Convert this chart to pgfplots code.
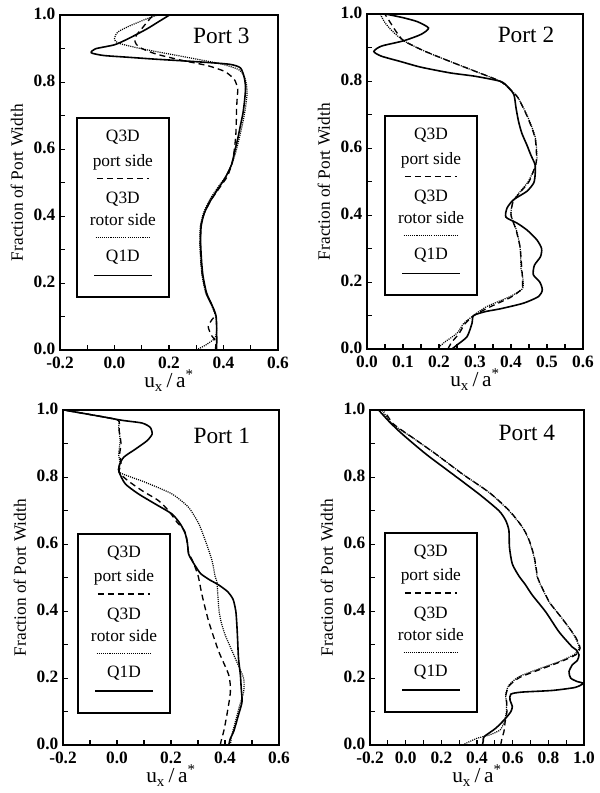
\documentclass[border=0pt]{standalone}
\usepackage{fontspec}
\setmainfont{Liberation Serif}
\usepackage{pgfplots}
\pgfplotsset{compat=1.18}
\usetikzlibrary{calc}

\pgfplotsset{
  portax/.style={
    scale only axis, width=162pt, height=251pt, anchor=south west,
    ymin=0, ymax=1,
    ytick={0,0.2,0.4,0.6,0.8,1.0}, minor ytick={0.1,0.3,0.5,0.7,0.9},
    tick align=inside, xtick pos=left, ytick pos=left,
    major tick length=4pt, minor tick length=3.5pt,
    every tick/.style={black, line width=0.8pt},
    axis line style={line width=1.4pt},
    /pgf/number format/assume math mode=true,
    /pgf/number format/fixed, /pgf/number format/fixed zerofill,
    /pgf/number format/precision=1,
    tick label style={font=\fontsize{13}{13}\selectfont\bfseries},
    xticklabel style={yshift=-1.5pt},
    yticklabel style={yshift=1pt},
    xlabel={u\textsubscript{x}\,/\,a\textsuperscript{*}},
    ylabel={Fraction of Port Width},
    xlabel style={font=\fontsize{16}{16}\selectfont, yshift=6pt},
    ylabel style={font=\fontsize{13}{13}\selectfont, yshift=1pt},
  },
  q1d/.style={black, line width=1.2pt, smooth, tension=0.4},
  q3dp/.style={black, line width=1pt, dash pattern=on 4.5pt off 3pt, smooth, tension=0.4},
  q3dr/.style={black, line width=0.9pt, dash pattern=on 0.8pt off 0.8pt, smooth, tension=0.4},
}
\tikzset{legtxt/.style={font=\fontsize{13}{13}\selectfont}}

% legend box: top-left corner in rel axis cs
\newcommand\portlegend[2]{%
  \node[draw, line width=1.4pt, anchor=north west, inner sep=0pt,
        minimum width=69pt, minimum height=134pt] (L) at (rel axis cs:#1,#2) {};
  \node[legtxt] at ($(L.north)+(0pt,-15pt)$) {Q3D};
  \node[legtxt] at ($(L.north)+(0pt,-33.5pt)$) {port side};
  \draw[line width=1pt, dash pattern=on 4.5pt off 3pt] ($(L.north)+(-19.5pt,-45.75pt)$) -- ++(39pt,0pt);
  \node[legtxt] at ($(L.north)+(0pt,-61.5pt)$) {Q3D};
  \node[legtxt] at ($(L.north)+(0pt,-77pt)$) {rotor side};
  \draw[line width=0.9pt, dash pattern=on 0.8pt off 0.8pt] ($(L.north)+(-20.5pt,-90pt)$) -- ++(41pt,0pt);
  \node[legtxt] at ($(L.north)+(0pt,-105pt)$) {Q1D};
  \draw[line width=1.2pt] ($(L.north)+(-21.5pt,-118.5pt)$) -- ++(43pt,0pt);
}

\begin{document}
\begin{tikzpicture}
\path (0,0) rectangle (447.75pt,594.75pt);

% ---------------- Port 3 ----------------
\begin{axis}[portax, at={(45pt,332.25pt)}, width=163.5pt,
  xmin=-0.2, xmax=0.6, xtick={-0.2,0,0.2,0.4,0.6}, minor xtick={-0.1,0.1,0.3,0.5}]
\addplot[q1d] coordinates {
(0.375,0.0) (0.375,0.05) (0.373,0.10) (0.36,0.13) (0.338,0.17) (0.325,0.22) (0.32,0.26)
(0.316,0.32) (0.318,0.37) (0.33,0.41) (0.355,0.45) (0.387,0.49) (0.41,0.52) (0.43,0.555)
(0.443,0.6) (0.452,0.63) (0.462,0.67) (0.472,0.71) (0.478,0.75) (0.481,0.785) (0.476,0.815)
(0.462,0.843) (0.42,0.854) (0.29,0.862) (0.15,0.869) (0.045,0.875) (-0.04,0.88) (-0.085,0.888)
(-0.07,0.9) (0.0,0.912) (0.05,0.93) (0.118,0.959) (0.16,0.98) (0.2,1.0)};
\addplot[q3dr] coordinates {
(0.30,0.0) (0.335,0.015) (0.368,0.035) (0.375,0.06) (0.372,0.10) (0.358,0.13) (0.335,0.17)
(0.322,0.22) (0.317,0.26) (0.313,0.32) (0.315,0.37) (0.327,0.41) (0.35,0.45) (0.383,0.49)
(0.41,0.52) (0.433,0.56) (0.448,0.6) (0.46,0.64) (0.471,0.68) (0.48,0.72) (0.486,0.76)
(0.485,0.79) (0.476,0.818) (0.455,0.838) (0.39,0.855) (0.25,0.877) (0.10,0.9) (0.014,0.917)
(0.0,0.93) (0.012,0.95) (0.06,0.97) (0.12,0.99) (0.155,1.0)};
\addplot[q3dp] coordinates {
(0.37,0.0) (0.372,0.025) (0.355,0.045) (0.344,0.07) (0.357,0.09) (0.37,0.105) (0.36,0.13)
(0.337,0.17) (0.323,0.22) (0.318,0.26) (0.315,0.32) (0.317,0.37) (0.33,0.41) (0.356,0.45)
(0.39,0.49) (0.415,0.52) (0.432,0.56) (0.44,0.6) (0.445,0.64) (0.447,0.68) (0.448,0.72)
(0.45,0.75) (0.452,0.78) (0.44,0.808) (0.405,0.832) (0.34,0.85) (0.25,0.865) (0.15,0.885)
(0.09,0.905) (0.075,0.922) (0.08,0.94) (0.10,0.96) (0.125,0.985) (0.142,1.0)};
\node[font=\fontsize{17.5}{18}\selectfont] at (rel axis cs:0.74,0.94) {Port 3};
\portlegend{0.073}{0.695}
\end{axis}

% ---------------- Port 2 ----------------
\begin{axis}[portax, at={(275.25pt,333pt)},
  xmin=0, xmax=0.6, xtick={0,0.1,0.2,0.3,0.4,0.5,0.6},
  minor xtick={0.05,0.15,0.25,0.35,0.45,0.55}]
\addplot[q1d] coordinates {
(0.236,0.0) (0.25,0.012) (0.278,0.037) (0.292,0.078) (0.296,0.10) (0.33,0.112) (0.37,0.12)
(0.435,0.137) (0.477,0.157) (0.487,0.177) (0.48,0.20) (0.462,0.222) (0.465,0.25) (0.482,0.276)
(0.485,0.30) (0.472,0.326) (0.445,0.355) (0.417,0.376) (0.386,0.394) (0.389,0.421) (0.407,0.446)
(0.444,0.471) (0.463,0.496) (0.467,0.52) (0.467,0.55) (0.455,0.58) (0.444,0.61) (0.43,0.645)
(0.421,0.68) (0.414,0.72) (0.408,0.76) (0.39,0.785) (0.37,0.80) (0.30,0.815) (0.231,0.825)
(0.15,0.842) (0.093,0.859) (0.04,0.875) (0.019,0.889) (0.04,0.905) (0.102,0.921) (0.15,0.94)
(0.171,0.959) (0.14,0.978) (0.10,0.99) (0.056,1.0)};
\addplot[q3dr] coordinates {
(0.195,0.0) (0.215,0.02) (0.25,0.047) (0.269,0.077) (0.296,0.10) (0.333,0.127) (0.398,0.157)
(0.432,0.18) (0.433,0.21) (0.428,0.24) (0.427,0.27) (0.425,0.306) (0.415,0.356) (0.40,0.40)
(0.405,0.44) (0.425,0.47) (0.448,0.5) (0.467,0.545) (0.472,0.57) (0.468,0.63) (0.448,0.69)
(0.42,0.75) (0.398,0.775) (0.37,0.80) (0.30,0.83) (0.231,0.859) (0.16,0.89) (0.102,0.921)
(0.07,0.95) (0.05,0.975) (0.037,1.0)};
\addplot[q3dp] coordinates {
(0.225,0.0) (0.235,0.02) (0.255,0.045) (0.272,0.075) (0.297,0.10) (0.34,0.125) (0.40,0.155)
(0.43,0.18) (0.432,0.21) (0.43,0.24) (0.428,0.27) (0.425,0.306) (0.414,0.356) (0.40,0.40)
(0.406,0.44) (0.427,0.47) (0.45,0.5) (0.467,0.545) (0.471,0.57) (0.467,0.63) (0.447,0.69)
(0.42,0.75) (0.398,0.775) (0.37,0.80) (0.30,0.83) (0.231,0.859) (0.16,0.89) (0.102,0.921)
(0.08,0.95) (0.065,0.975) (0.05,1.0)};
\node[font=\fontsize{17.5}{18}\selectfont] at (rel axis cs:0.736,0.94) {Port 2};
\portlegend{0.079}{0.698}
\end{axis}

% ---------------- Port 1 ----------------
\begin{axis}[portax, at={(47.25pt,36pt)},
  xmin=-0.2, xmax=0.6, xtick={-0.2,0,0.2,0.4,0.6}, minor xtick={-0.1,0.1,0.3,0.5}]
\addplot[q1d] coordinates {
(0.414,0.0) (0.42,0.02) (0.432,0.04) (0.45,0.09) (0.463,0.129) (0.46,0.17) (0.457,0.209)
(0.45,0.259) (0.447,0.31) (0.444,0.358) (0.44,0.40) (0.43,0.435) (0.41,0.458) (0.377,0.478)
(0.34,0.495) (0.31,0.512) (0.29,0.535) (0.275,0.555) (0.265,0.571) (0.261,0.601) (0.253,0.631)
(0.235,0.66) (0.204,0.69) (0.142,0.72) (0.08,0.75) (0.031,0.78) (0.008,0.815) (0.008,0.835)
(0.025,0.86) (0.068,0.884) (0.111,0.909) (0.13,0.929) (0.123,0.949) (0.093,0.962) (0.02,0.97)
(-0.062,0.982) (-0.19,1.0)};
\addplot[q3dr] coordinates {
(0.42,0.0) (0.425,0.03) (0.432,0.05) (0.445,0.09) (0.455,0.12) (0.469,0.159) (0.469,0.199)
(0.438,0.259) (0.401,0.328) (0.385,0.37) (0.377,0.408) (0.37,0.488) (0.364,0.501) (0.352,0.551)
(0.327,0.611) (0.303,0.661) (0.265,0.71) (0.204,0.75) (0.105,0.785) (0.008,0.815) (0.012,0.84)
(0.006,0.87) (0.012,0.909) (0.006,0.949) (0.005,0.97) (-0.062,0.982) (-0.19,1.0)};
\addplot[q3dp] coordinates {
(0.383,0.0) (0.385,0.01) (0.395,0.04) (0.407,0.09) (0.42,0.159) (0.414,0.209) (0.377,0.279)
(0.34,0.368) (0.315,0.448) (0.30,0.507) (0.28,0.55) (0.265,0.575) (0.26,0.61) (0.25,0.64)
(0.222,0.666) (0.191,0.70) (0.154,0.73) (0.093,0.76) (0.04,0.79) (0.008,0.815) (0.015,0.84)
(0.01,0.87) (0.015,0.90) (0.008,0.94) (0.005,0.97) (-0.062,0.982) (-0.19,1.0)};
\node[font=\fontsize{17.5}{18}\selectfont] at (rel axis cs:0.735,0.925) {Port 1};
\portlegend{0.065}{0.633}
\end{axis}

% ---------------- Port 4 ----------------
\begin{axis}[portax, at={(277.5pt,36pt)}, width=160.5pt,
  xmin=-0.2, xmax=1.0, xtick={-0.2,0,0.2,0.4,0.6,0.8,1.0},
  minor xtick={-0.1,0.1,0.3,0.5,0.7,0.9}]
\addplot[q1d] coordinates {
(0.43,0.0) (0.435,0.012) (0.44,0.025) (0.505,0.05) (0.561,0.08) (0.59,0.10) (0.598,0.115)
(0.585,0.135) (0.59,0.152) (0.65,0.158) (0.822,0.163) (0.95,0.172) (0.995,0.184) (0.96,0.19)
(0.925,0.20) (0.916,0.219) (0.935,0.24) (0.962,0.252) (0.972,0.269) (0.955,0.285) (0.934,0.293)
(0.86,0.338) (0.785,0.398) (0.71,0.448) (0.67,0.48) (0.635,0.505) (0.598,0.541) (0.582,0.591)
(0.579,0.641) (0.561,0.671) (0.523,0.70) (0.411,0.75) (0.262,0.81) (0.112,0.87) (-0.019,0.929)
(-0.09,0.965) (-0.15,1.0)};
\addplot[q3dr] coordinates {
(0.33,0.003) (0.40,0.02) (0.47,0.03) (0.53,0.045) (0.553,0.07) (0.565,0.10) (0.565,0.13)
(0.56,0.149) (0.579,0.179) (0.635,0.204) (0.729,0.224) (0.86,0.249) (0.95,0.272) (0.972,0.293)
(0.944,0.328) (0.878,0.378) (0.804,0.428) (0.748,0.488) (0.738,0.501) (0.72,0.561) (0.692,0.611)
(0.654,0.651) (0.579,0.70) (0.467,0.755) (0.318,0.81) (0.168,0.87) (0.037,0.919) (-0.075,0.959)
(-0.131,1.0)};
\addplot[q3dp] coordinates {
(0.533,0.0) (0.54,0.02) (0.551,0.04) (0.558,0.07) (0.568,0.10) (0.566,0.13) (0.562,0.15)
(0.582,0.178) (0.64,0.202) (0.735,0.222) (0.865,0.248) (0.955,0.27) (0.978,0.29) (0.95,0.325)
(0.88,0.376) (0.806,0.427) (0.75,0.487) (0.74,0.50) (0.722,0.56) (0.694,0.61) (0.656,0.65)
(0.582,0.70) (0.47,0.754) (0.32,0.809) (0.17,0.869) (0.04,0.918) (-0.07,0.96) (-0.12,1.0)};
\node[font=\fontsize{17.5}{18}\selectfont] at (rel axis cs:0.733,0.931) {Port 4};
\portlegend{0.065}{0.636}
\end{axis}
\end{tikzpicture}
\end{document}
